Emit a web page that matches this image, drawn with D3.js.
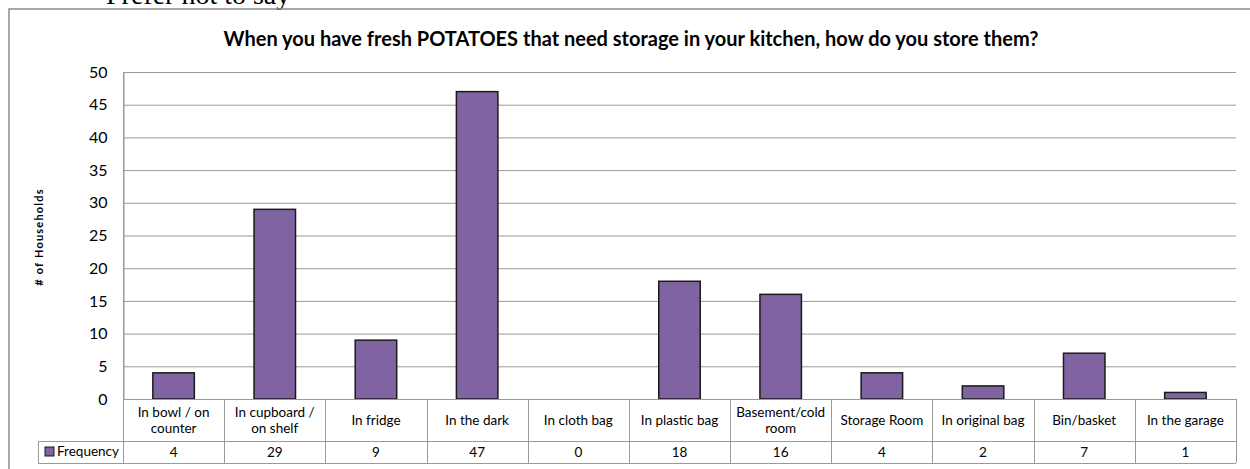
<!DOCTYPE html>
<html>
<head>
<meta charset="utf-8">
<script src="https://cdn.jsdelivr.net/npm/d3@7"></script>
<style>
  body { margin: 0; background: #fff; }
  svg { display: block; font-family: Lato, "Open Sans", sans-serif; }
</style>
</head>
<body>
<div id="chart"></div>
<script>
const categories = [
  ["In bowl / on", "counter"],
  ["In cupboard /", "on shelf"],
  ["In fridge"],
  ["In the dark"],
  ["In cloth bag"],
  ["In plastic bag"],
  ["Basement/cold", "room"],
  ["Storage Room"],
  ["In original bag"],
  ["Bin/basket"],
  ["In the garage"]
];
const frequency = [4, 29, 9, 47, 0, 18, 16, 4, 2, 7, 1];
const yTicks = [0, 5, 10, 15, 20, 25, 30, 35, 40, 45, 50];
const seriesName = "Frequency";
const title = "When you have fresh POTATOES that need storage in your kitchen, how do you store them?";

const width = 1250, height = 469;
const plot = { left: 123, right: 1236, top: 72, bottom: 399 };
const rowCat = 441, rowFreq = 463, legendLeft = 38;
const barColor = "#8064A2";
const gridColor = "#9a9a9a";

var svg = d3.select("#chart").append("svg")
  .attr("width", width).attr("height", height);

// leftover text from the page above the chart (cut off in the original too)
svg.append("text")
  .attr("x", 106).attr("y", 4)
  .style("font-family", "'Liberation Serif', serif")
  .style("font-size", "28px")
  .text("Prefer not to say");

// outer chart border
svg.append("rect")
  .attr("x", 9).attr("y", 9)
  .attr("width", 1260).attr("height", 480)
  .attr("fill", "none").attr("stroke", "#8c8c8c").attr("stroke-width", 1.5);

svg.append("text")
  .attr("x", 631).attr("y", 46)
  .attr("text-anchor", "middle")
  .style("font-size", "20px").style("font-weight", "bold")
  .text(title);

var x = d3.scaleBand()
  .domain(d3.range(categories.length))
  .range([plot.left, plot.right])
  .paddingInner(0).paddingOuter(0);

var y = d3.scaleLinear().domain([0, 50]).range([plot.bottom, plot.top]);

// gridlines
svg.append("g")
  .selectAll("line")
  .data(yTicks.slice(1))
  .enter()
  .append("line")
  .attr("x1", plot.left).attr("x2", plot.right)
  .attr("y1", d => y(d) + 0.5).attr("y2", d => y(d) + 0.5)
  .attr("stroke", gridColor);

// y axis
var yAxis = svg.append("g")
  .attr("transform", "translate(" + (plot.left + 0.5) + ",0)")
  .call(d3.axisLeft(y).tickValues(yTicks).tickSize(0).tickPadding(16));
yAxis.select(".domain").attr("stroke", gridColor);
yAxis.selectAll("text").style("font-size", "16px").style("font-family", "Lato, sans-serif").attr("fill", "#000");

svg.append("text")
  .attr("transform", "translate(43,237) rotate(-90)")
  .attr("text-anchor", "middle")
  .style("font-size", "11px").style("font-weight", "bold")
  .style("letter-spacing", "1.2px")
  .text("# of Households");

// bars
var bw = x.bandwidth() * 0.41;
svg.append("g")
  .selectAll("rect")
  .data(frequency)
  .enter()
  .append("rect")
  .attr("x", (d, i) => x(i) + (x.bandwidth() - bw) / 2)
  .attr("y", d => y(d))
  .attr("width", bw)
  .attr("height", d => y(0) - y(d))
  .attr("fill", barColor)
  .attr("stroke", "#1a1a1a").attr("stroke-width", 1.5);

// data table
var table = svg.append("g").attr("stroke", gridColor).attr("fill", "none");
table.append("line").attr("x1", plot.left).attr("x2", plot.right)
  .attr("y1", plot.bottom + 0.5).attr("y2", plot.bottom + 0.5);
table.append("line").attr("x1", legendLeft).attr("x2", plot.right)
  .attr("y1", rowCat + 0.5).attr("y2", rowCat + 0.5);
table.append("line").attr("x1", legendLeft).attr("x2", plot.right)
  .attr("y1", rowFreq + 0.5).attr("y2", rowFreq + 0.5);
table.append("line").attr("x1", legendLeft + 0.5).attr("x2", legendLeft + 0.5)
  .attr("y1", rowCat).attr("y2", rowFreq);
table.selectAll(".vline")
  .data(d3.range(categories.length + 1))
  .enter()
  .append("line")
  .attr("class", "vline")
  .attr("x1", i => Math.round(plot.left + i * x.step()) + 0.5)
  .attr("x2", i => Math.round(plot.left + i * x.step()) + 0.5)
  .attr("y1", i => i === 0 ? plot.top : plot.bottom)
  .attr("y2", rowFreq);

var catLabels = svg.append("g")
  .selectAll("text")
  .data(categories)
  .enter()
  .append("text")
  .attr("text-anchor", "middle")
  .style("font-size", "13.5px")
  .attr("x", (d, i) => x(i) + x.bandwidth() / 2)
  .attr("y", d => d.length === 1 ? 425 : 417);
catLabels.selectAll("tspan")
  .data(d => d)
  .enter()
  .append("tspan")
  .attr("x", function () { return d3.select(this.parentNode).attr("x"); })
  .attr("dy", (d, i) => i === 0 ? 0 : 16)
  .text(d => d);

svg.append("g")
  .selectAll("text")
  .data(frequency)
  .enter()
  .append("text")
  .attr("text-anchor", "middle")
  .style("font-size", "13.5px")
  .attr("x", (d, i) => x(i) + x.bandwidth() / 2)
  .attr("y", 457)
  .text(d => d);

// legend key in table
svg.append("rect")
  .attr("x", 45).attr("y", 447).attr("width", 9).attr("height", 9)
  .attr("fill", barColor).attr("stroke", "#1a1a1a");
svg.append("text")
  .attr("x", 57).attr("y", 456)
  .style("font-size", "13.5px")
  .text(seriesName);
</script>
</body>
</html>
